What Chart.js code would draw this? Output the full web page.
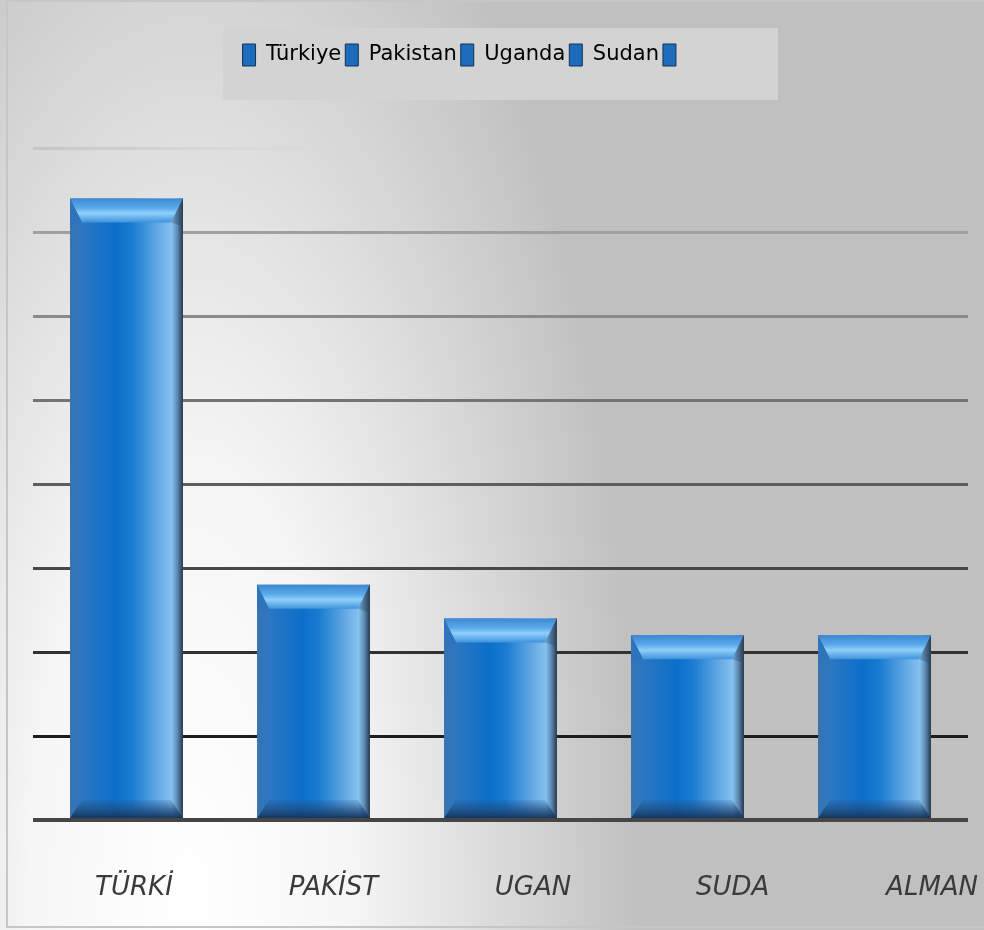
<!DOCTYPE html>
<html><head><meta charset="utf-8">
<style>html,body{margin:0;padding:0;background:#fff;overflow:hidden}#wrap{width:984px;height:930px}</style>
<script src="https://cdn.jsdelivr.net/npm/chart.js@4/dist/chart.umd.min.js"></script>
</head><body><div id="wrap"><canvas id="c" width="984" height="930"></canvas></div>
<script>
const categories = ['Türkiye', 'Pakistan', 'Uganda', 'Sudan', 'Almanya'];
const values = [37, 14, 12, 11, 11];
const tickLabels = ['TÜRKİ', 'PAKİST', 'UGAN', 'SUDA', 'ALMAN'];
const legendLabels = ['Türkiye', 'Pakistan', 'Uganda', 'Sudan', ''];
const yMax = 40;
const yStep = 5;

const BAR_PCT = 0.604;

const bgPlugin = {
  id: 'bg',
  beforeInit(chart) {
    const lg = chart.legend;
    if (lg) {
      const f = lg.fit;
      lg.fit = function () { f.call(this); this.height = 108; };
    }
  },
  afterLayout(chart) {
    const lg = chart.legend;
    if (lg) { lg.left -= 36; lg.right -= 36; }
  },
  beforeDraw(chart) {
    const c = chart.ctx, W = chart.width, H = chart.height;
    c.save();
    c.fillStyle = '#c0c0c0';
    c.fillRect(0, 0, W, H);
    c.translate(190, 900);
    c.scale(1, 1200 / 450);
    const g = c.createRadialGradient(0, 0, 0, 0, 0, 450);
    g.addColorStop(0, '#ffffff');
    g.addColorStop(0.35, '#f6f6f6');
    g.addColorStop(1, '#c0c0c0');
    c.fillStyle = g;
    c.fillRect(-2000, -2000, 4000, 4000);
    c.restore();
    c.save();
    c.strokeStyle = '#c6c6c6';
    c.lineWidth = 2;
    c.strokeRect(7, 1, 1000, 926);
    c.fillStyle = '#d3d3d3';
    c.fillRect(223, 28, 555, 72);
    c.restore();
  },
  afterDatasetsDraw(chart) {
    const c = chart.ctx;
    const meta = chart.getDatasetMeta(0);
    meta.data.forEach(bar => {
      const p = bar.getProps(['x', 'y', 'base', 'width'], true);
      const x0 = p.x - p.width / 2, x1 = p.x + p.width / 2;
      const top = p.y, bot = p.base;
      const bx = 12, th = 24, bh = 18;
      c.save();
      let g = c.createLinearGradient(0, top, 0, top + th);
      g.addColorStop(0, '#3d88d2');
      g.addColorStop(0.4, '#5aaaea');
      g.addColorStop(0.62, '#8fd0fb');
      g.addColorStop(1, '#3f92dc');
      c.fillStyle = g;
      c.beginPath();
      c.moveTo(x0, top); c.lineTo(x1, top); c.lineTo(x1 - bx, top + th); c.lineTo(x0 + bx, top + th); c.closePath();
      c.fill();
      c.fillStyle = '#2f73bb';
      c.beginPath();
      c.moveTo(x0, top); c.lineTo(x0 + bx, top + th); c.lineTo(x0, top + th + 4); c.closePath(); c.fill();
      g = c.createLinearGradient(x1 - bx, 0, x1, 0);
      g.addColorStop(0, '#6fa8d8');
      g.addColorStop(1, '#2a3d52');
      c.fillStyle = g;
      c.beginPath();
      c.moveTo(x1, top); c.lineTo(x1 - bx, top + th); c.lineTo(x1, top + th + 4); c.closePath(); c.fill();
      g = c.createLinearGradient(0, bot - bh, 0, bot);
      g.addColorStop(0, 'rgba(30,80,140,0.15)');
      g.addColorStop(0.6, 'rgba(28,70,120,0.75)');
      g.addColorStop(1, 'rgba(20,50,90,0.95)');
      c.fillStyle = g;
      c.beginPath();
      c.moveTo(x0 + bx, bot - bh); c.lineTo(x1 - bx, bot - bh); c.lineTo(x1, bot); c.lineTo(x0, bot); c.closePath();
      c.fill();
      c.restore();
    });
  }
};

new Chart(document.getElementById('c'), {
  type: 'bar',
  data: {
    labels: categories,
    datasets: [{
      label: 'Değer',
      data: values,
      xAxisID: 'x',
      yAxisID: 'y',
      barPercentage: BAR_PCT,
      categoryPercentage: 1,
      borderWidth: 0,
      backgroundColor: ctx => {
        const ch = ctx.chart, ca = ch.chartArea;
        if (!ca || ctx.dataIndex === undefined || !ch.scales.x) return '#1a72c6';
        const cx = ch.scales.x.getPixelForValue(ctx.dataIndex);
        const w = (ca.right - ca.left) / categories.length * BAR_PCT;
        const g = ch.ctx.createLinearGradient(cx - w / 2, 0, cx + w / 2, 0);
        g.addColorStop(0, '#3873b0');
        g.addColorStop(0.1, '#2d77c2');
        g.addColorStop(0.4, '#0b6fc9');
        g.addColorStop(0.55, '#1a7cd2');
        g.addColorStop(0.78, '#64a9e3');
        g.addColorStop(0.9, '#86c1ef');
        g.addColorStop(0.95, '#5d89b3');
        g.addColorStop(1, '#26384c');
        return g;
      }
    }]
  },
  options: {
    responsive: false,
    animation: false,
    events: [],
    layout: { padding: { left: 33, right: 16, top: 40, bottom: 0 } },
    plugins: {
      tooltip: { enabled: false },
      legend: {
        position: 'top',
        labels: {
          boxWidth: 13,
          boxHeight: 22,
          padding: 4,
          color: '#3d3d3d',
          font: { family: 'DejaVu Sans', size: 21 },
          generateLabels: chart => legendLabels.map((t, i) => ({
            text: t, fillStyle: '#1c6cbd', strokeStyle: '#17324f', lineWidth: 1,
            hidden: false, index: i, datasetIndex: 0
          }))
        }
      }
    },
    scales: {
      x: { type: 'category', display: false, offset: true, grid: { display: false } },
      x2: {
        type: 'linear', position: 'bottom', min: -0.506, max: 4.18, bounds: 'data', offset: false,
        afterBuildTicks: s => { s.ticks = tickLabels.map((_, i) => ({ value: i })); },
        afterFit: s => { s.height = 110; s.paddingLeft = 0; s.paddingRight = 0; },
        grid: { display: false, drawTicks: false, offset: false },
        border: { display: false },
        ticks: {
          padding: 53, color: '#3a3a3a', autoSkip: false, maxRotation: 0,
          font: { family: 'DejaVu Sans', style: 'italic', size: 26 },
          callback: v => tickLabels[v]
        }
      },
      y: {
        min: 0, max: yMax,
        ticks: { display: false, stepSize: yStep },
        border: { display: false },
        grid: {
          drawTicks: false,
          lineWidth: ctx => (ctx.tick && ctx.tick.value === 0) ? 4 : 3,
          color: ctx => {
            const ch = ctx.chart, ca = ch.chartArea;
            const v = ctx.tick ? ctx.tick.value : null;
            if (v === 0) return '#464646';
            if (!ca) return '#888';
            if (v === yMax) {
              const g = ch.ctx.createLinearGradient(ca.left, 0, ca.left + 300, 0);
              g.addColorStop(0, '#c6c6c6');
              g.addColorStop(1, 'rgba(205,205,205,0)');
              return g;
            }
            const ys = ch.scales.y;
            const g = ch.ctx.createLinearGradient(0, ys.getPixelForValue(yMax - yStep), 0, ys.getPixelForValue(yStep));
            g.addColorStop(0, '#a0a0a0');
            g.addColorStop(1, '#1c1c1c');
            return g;
          }
        }
      }
    }
  },
  plugins: [bgPlugin]
});
</script>
</body></html>
